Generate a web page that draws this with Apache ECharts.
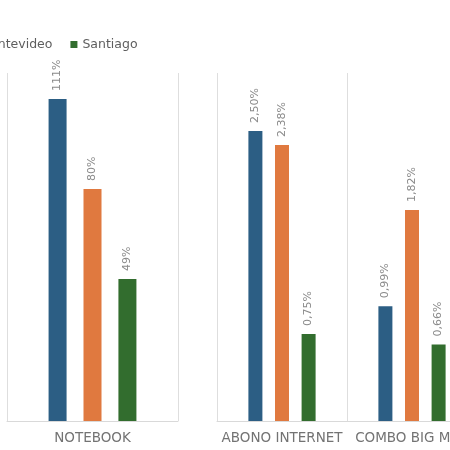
<!DOCTYPE html>
<html>
<head>
<meta charset="utf-8">
<script src="https://cdn.jsdelivr.net/npm/echarts@6/dist/echarts.min.js"></script>
<style>
  html, body { margin: 0; padding: 0; background: #ffffff; }
  #chart { width: 450px; height: 450px; }
</style>
</head>
<body>
<div id="chart"></div>
<script>
// Data
const seriesNames = ['Buenos Aires', 'Montevideo', 'Santiago'];
const categoriesLeft = ['NOTEBOOK'];
const categoriesRight = ['ABONO INTERNET', 'COMBO BIG MAC'];
const buenosAiresLeft = [111];
const montevideoLeft = [80];
const santiagoLeft = [49];
const buenosAiresRight = [2.50, 0.99];
const montevideoRight = [2.38, 1.82];
const santiagoRight = [0.75, 0.66];

const colors = ['#2C5E84', '#E0793F', '#326D2E'];
const font = 'DejaVu Sans';

const chart = echarts.init(document.getElementById('chart'), null, { renderer: 'canvas' });

function labelCfg(fmt) {
  return {
    show: true,
    position: 'top',
    rotate: 90,
    align: 'left',
    verticalAlign: 'middle',
    distance: 8,
    color: '#8a8a8a',
    fontFamily: font,
    fontSize: 11,
    formatter: p => fmt(p.value)
  };
}
const fmtLeft = v => v + '%';
const fmtRight = v => v.toFixed(2).replace('.', ',') + '%';

const xAxisCommon = {
  type: 'category',
  axisTick: { show: false },
  axisLine: { show: true, lineStyle: { color: '#d9d9d9', width: 1 } },
  splitLine: { show: true, lineStyle: { color: '#dedede', width: 1 } },
  axisLabel: { interval: 0, color: '#737373', fontFamily: font, fontSize: 13.5, margin: 10 }
};

const leftData = [buenosAiresLeft, montevideoLeft, santiagoLeft];
const rightData = [buenosAiresRight, montevideoRight, santiagoRight];

const series = [];
seriesNames.forEach((name, i) => {
  series.push({
    name, type: 'bar', xAxisIndex: 0, yAxisIndex: 0,
    data: leftData[i], barWidth: 18, barGap: '94%',
    itemStyle: { color: colors[i] },
    label: labelCfg(fmtLeft)
  });
});
seriesNames.forEach((name, i) => {
  series.push({
    name, type: 'bar', xAxisIndex: 1, yAxisIndex: 1,
    data: rightData[i], barWidth: 14, barGap: '90%',
    itemStyle: { color: colors[i] },
    label: labelCfg(fmtRight)
  });
});

chart.setOption({
  animation: false,
  backgroundColor: '#ffffff',
  color: colors,
  legend: {
    data: seriesNames,
    left: -149,
    top: 33,
    icon: 'rect',
    itemWidth: 7,
    itemHeight: 7,
    itemGap: 18,
    textStyle: { color: '#5e5e5e', fontFamily: font, fontSize: 12.5 }
  },
  grid: [
    { left: 7, top: 73, width: 171, height: 348, outerBoundsMode: 'none' },
    { left: 217, top: 73, width: 260, height: 348, outerBoundsMode: 'none' }
  ],
  xAxis: [
    Object.assign({}, xAxisCommon, { gridIndex: 0, data: categoriesLeft }),
    Object.assign({}, xAxisCommon, { gridIndex: 1, data: categoriesRight })
  ],
  yAxis: [
    { type: 'value', gridIndex: 0, min: 0, max: 120, show: false, splitLine: { show: false } },
    { type: 'value', gridIndex: 1, min: 0, max: 3, show: false, splitLine: { show: false } }
  ],
  series
});
</script>
</body>
</html>
